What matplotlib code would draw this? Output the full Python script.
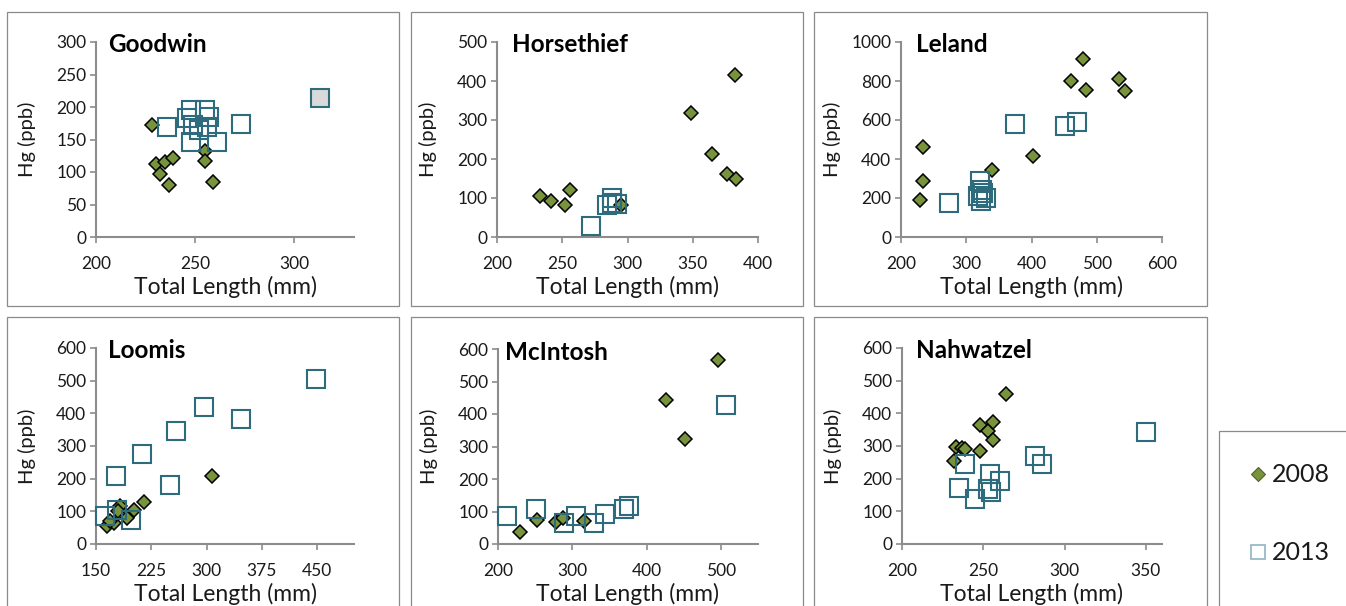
import matplotlib
matplotlib.use("Agg")
import matplotlib.pyplot as plt
from matplotlib.patches import Rectangle
from matplotlib.lines import Line2D

plt.rcParams['font.family'] = ['Lato', 'DejaVu Sans']

# Hg (ppb) against total length (mm), one panel per lake
goodwin_08_x = [228, 230, 232, 237, 235, 239, 255, 255, 259]
goodwin_08_y = [173, 112, 97, 80, 116, 122, 132, 117, 85]
goodwin_13_x = [236, 246, 248, 255, 249, 256, 248, 261, 273, 252, 257]
goodwin_13_y = [170, 183, 195, 195, 173, 170, 146, 146, 174, 165, 185]
goodwin_13_grey_x = [313]
goodwin_13_grey_y = [214]

horse_08_x = [233, 241, 252, 256, 295, 349, 365, 376, 383, 382]
horse_08_y = [104, 92, 81, 121, 81, 318, 214, 162, 149, 416]
horse_13_x = [272, 284, 288, 288, 292]
horse_13_y = [27, 82, 100, 88, 85]

leland_08_x = [229, 234, 234, 340, 403, 461, 479, 483, 534, 544]
leland_08_y = [191, 285, 461, 345, 414, 798, 915, 755, 812, 747]
leland_13_x = [273, 375, 452, 469, 321, 324, 318, 331, 326, 322]
leland_13_y = [174, 581, 567, 590, 285, 243, 208, 200, 226, 183]

loomis_08_x = [165, 174, 183, 192, 201, 215, 308, 169, 180]
loomis_08_y = [56, 65, 115, 80, 104, 130, 209, 71, 100]
loomis_13_x = [162, 177, 178, 198, 213, 250, 259, 296, 347, 448]
loomis_13_y = [85, 207, 105, 74, 275, 180, 345, 420, 383, 505]

mcintosh_08_x = [229, 252, 278, 287, 316, 426, 452, 496]
mcintosh_08_y = [37, 75, 67, 80, 70, 442, 324, 567]
mcintosh_13_x = [212, 251, 289, 305, 329, 344, 370, 377, 507]
mcintosh_13_y = [85, 107, 65, 85, 65, 93, 108, 118, 429]

nahw_08_x = [232, 233, 237, 239, 248, 248, 253, 256, 256, 264]
nahw_08_y = [253, 297, 294, 290, 284, 364, 345, 374, 318, 459]
nahw_13_x = [235, 239, 245, 254, 253, 255, 260, 282, 286, 350]
nahw_13_y = [171, 246, 138, 215, 169, 159, 192, 269, 246, 344]

W, H = 1346, 606
fig = plt.figure(figsize=(W / 100, H / 100), dpi=100)

GREEN = '#77933c'
TEAL = '#2e6b7d'
AXIS = '#8c8c8c'
TXT = '#1a1a1a'


def fx(px):
    return px / W


def fy(py):
    return 1 - py / H


def box(x0, y0, x1, y1):
    fig.add_artist(Rectangle((fx(x0), fy(y1)), fx(x1 - x0), (y1 - y0) / H,
                             transform=fig.transFigure, fill=False,
                             edgecolor='#8a8a8a', lw=0.9))


# panel frames
for x0, x1 in [(7, 399), (411, 803), (814, 1207)]:
    box(x0, 12, x1, 306)
    box(x0, 317, x1, 612)
box(1219, 431, 1352, 612)

panels = [
    # name, rect(px l, t, r, b), xlim, xticks, ylim, yticks, data, title x
    ('Goodwin', (96, 42, 354, 237), (200, 330), [200, 250, 300], (0, 300),
     range(0, 301, 50), (goodwin_08_x, goodwin_08_y, goodwin_13_x, goodwin_13_y), 108),
    ('Horsethief', (497, 42, 758, 237), (200, 400), [200, 250, 300, 350, 400], (0, 500),
     range(0, 501, 100), (horse_08_x, horse_08_y, horse_13_x, horse_13_y), 512),
    ('Leland', (901, 42, 1162, 237), (200, 600), [200, 300, 400, 500, 600], (0, 1000),
     range(0, 1001, 200), (leland_08_x, leland_08_y, leland_13_x, leland_13_y), 916),
    ('Loomis', (96, 348, 354, 544), (150, 500), [150, 225, 300, 375, 450], (0, 600),
     range(0, 601, 100), (loomis_08_x, loomis_08_y, loomis_13_x, loomis_13_y), 108),
    ('McIntosh', (498, 349, 758, 544), (200, 550), [200, 300, 400, 500], (0, 600),
     range(0, 601, 100), (mcintosh_08_x, mcintosh_08_y, mcintosh_13_x, mcintosh_13_y), 505),
    ('Nahwatzel', (902, 348, 1162, 544), (200, 360), [200, 250, 300, 350], (0, 600),
     range(0, 601, 100), (nahw_08_x, nahw_08_y, nahw_13_x, nahw_13_y), 916),
]

for name, (l, t, r, b), xlim, xticks, ylim, yticks, (x08, y08, x13, y13), tx in panels:
    ax = fig.add_axes([fx(l), fy(b), fx(r - l), (b - t) / H])
    ax.set_facecolor('none')
    ax.plot(x08, y08, ls='none', marker='D', ms=7.5, mfc=GREEN, mec='black', mew=1.1,
            clip_on=False, zorder=3)
    ax.plot(x13, y13, ls='none', marker='s', ms=13, mfc='none', mec=TEAL, mew=1.5,
            clip_on=False, zorder=4)
    if name == 'Goodwin':
        ax.plot(goodwin_13_grey_x, goodwin_13_grey_y, ls='none', marker='s', ms=13,
                mfc='#d9d9d9', mec=TEAL, mew=1.5, clip_on=False, zorder=4)

    ax.set_xlim(*xlim)
    ax.set_ylim(*ylim)
    ax.set_xticks(xticks)
    ax.set_yticks(list(yticks))
    for s in ['top', 'right']:
        ax.spines[s].set_visible(False)
    for s in ['left', 'bottom']:
        ax.spines[s].set_color(AXIS)
        ax.spines[s].set_linewidth(1.5)
    ax.tick_params(axis='both', direction='out', color=AXIS, width=1.2, length=4,
                   labelsize=12.5, labelcolor=TXT)
    ax.tick_params(axis='x', pad=10)
    ax.tick_params(axis='y', pad=3)

    ax.set_xlabel('Total Length (mm)', fontsize=16.5, color=TXT)
    ax.xaxis.set_label_coords(0.5, -39 / (b - t))
    ax.set_ylabel('Hg (ppb)', fontsize=14.5, color=TXT)
    ax.yaxis.set_label_coords(-60 / (r - l), 0.5)

    ty = t + 3
    kw = dict(fontsize=17.5, fontweight='bold', color='black', ha='left', va='center')
    if name == 'McIntosh':
        kw['bbox'] = dict(facecolor='white', edgecolor='none', pad=1.5)
    fig.text(fx(tx), fy(ty), name, **kw)

# legend
lx, ly1, ly2 = 1258, 474, 552
fig.add_artist(Line2D([fx(lx)], [fy(ly1)], marker='D', ms=7, mfc=GREEN, mec='#4f6228',
                      mew=0.8, ls='none', transform=fig.transFigure))
fig.add_artist(Line2D([fx(lx)], [fy(ly2)], marker='s', ms=9.5, mfc='white', mec='#8fb3c2',
                      mew=1.2, ls='none', transform=fig.transFigure))
fig.text(fx(1272), fy(ly1), '2008', fontsize=18, color=TXT, ha='left', va='center')
fig.text(fx(1272), fy(ly2), '2013', fontsize=18, color=TXT, ha='left', va='center')

fig.savefig('out.png', dpi=100, facecolor='white')
